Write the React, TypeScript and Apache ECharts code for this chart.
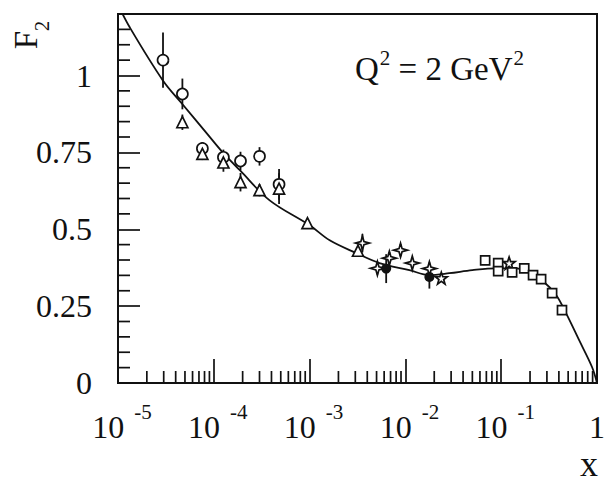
import React, { useEffect, useRef } from "react";
import * as echarts from "echarts";

// ---------- data ----------
const curveX = [1e-5, 1.33e-5, 2.94e-5, 4.64e-5, 8.45e-5, 1.24e-4, 1.87e-4, 3.83e-4, 1.0e-3, 1.62e-3, 3.09e-3, 5.36e-3, 1.1e-2, 1.78e-2, 2.87e-2, 4.99e-2, 8.87e-2, 0.143, 0.196, 0.267, 0.374, 0.475, 0.649, 0.887, 1.0];
const curveY = [1.23, 1.156, 0.984, 0.909, 0.812, 0.75, 0.692, 0.594, 0.513, 0.464, 0.422, 0.39, 0.367, 0.351, 0.357, 0.367, 0.373, 0.373, 0.36, 0.334, 0.286, 0.227, 0.14, 0.052, 0.0];

const circleX = [2.95e-5, 4.7e-5, 7.6e-5, 1.26e-4, 1.9e-4, 3.0e-4, 4.8e-4];
const circleY = [1.05, 0.94, 0.763, 0.734, 0.722, 0.737, 0.646];
const circleErr = [0.09, 0.05, 0.02, 0.025, 0.03, 0.03, 0.05];

const triangleX = [4.7e-5, 7.6e-5, 1.26e-4, 1.9e-4, 3.0e-4, 4.8e-4, 9.5e-4, 3.2e-3];
const triangleY = [0.848, 0.745, 0.717, 0.653, 0.627, 0.632, 0.52, 0.43];
const triangleErr = [0.025, 0.02, 0.03, 0.03, 0.02, 0.05, 0.01, 0.02];

const star4X = [3.56e-3, 5.1e-3, 6.8e-3, 8.9e-3, 1.18e-2, 1.78e-2];
const star4Y = [0.455, 0.373, 0.406, 0.432, 0.39, 0.372];
const star4Err = [0.03, 0.02, 0.02, 0.02, 0.012, 0.02];

const filledX = [6.3e-3, 1.78e-2];
const filledY = [0.372, 0.345];
const filledErr = [0.047, 0.038];

const star5X = [2.37e-2, 0.121];
const star5Y = [0.341, 0.39];
const star5Err = [0.0, 0.02];

const squareX = [0.068, 0.093, 0.093, 0.13, 0.174, 0.215, 0.261, 0.34, 0.431];
const squareY = [0.399, 0.39, 0.364, 0.36, 0.373, 0.351, 0.338, 0.292, 0.237];
const squareErr = [0.0, 0.01, 0.01, 0.0, 0.0, 0.01, 0.01, 0.01, 0.01];

// axis structure
const xMin = 1e-5;
const xMax = 1;
const yMin = 0;
const yMax = 1.2;
const yMajor = 0.25;
const decadeExponents = [-5, -4, -3, -2, -1];
const minorMultipliers = [2, 3, 4, 5, 6, 7, 8, 9];
const yMinorTicks = [0.05, 0.1, 0.15, 0.2, 0.3, 0.35, 0.4, 0.45, 0.55, 0.6, 0.65, 0.7, 0.8, 0.85, 0.9, 0.95, 1.05, 1.1, 1.15];

const INK = "#111111";
const SERIF = "Liberation Serif, serif";

const STAR4 = "path://M0,-10 L2.2,-2.2 L10,0 L2.2,2.2 L0,10 L-2.2,2.2 L-10,0 L-2.2,-2.2 Z";
const STAR5 = "path://M0,-10 L2.35,-3.2 L9.5,-3.1 L3.8,1.2 L5.9,8.1 L0,4 L-5.9,8.1 L-3.8,1.2 L-9.5,-3.1 L-2.35,-3.2 Z";

function pts(xs: number[], ys: number[]) {
  return xs.map((x, i) => [x, ys[i]]);
}
function bars(xs: number[], ys: number[], es: number[]) {
  return xs.map((x, i) => [x, ys[i] - es[i], ys[i] + es[i]]).filter((d, i) => es[i] > 0);
}

export default function App() {
  const ref = useRef<HTMLDivElement>(null);
  useEffect(() => {
    if (!ref.current) return;
    const chart = echarts.init(ref.current, undefined, { renderer: "svg" });

    const xMinorTicks: number[] = [];
    decadeExponents.forEach((e) => minorMultipliers.forEach((k) => xMinorTicks.push(k * Math.pow(10, e))));

    const errData = [
      ...bars(circleX, circleY, circleErr),
      ...bars(triangleX, triangleY, triangleErr),
      ...bars(star4X, star4Y, star4Err),
      ...bars(filledX, filledY, filledErr),
      ...bars(star5X, star5Y, star5Err),
      ...bars(squareX, squareY, squareErr),
    ];

    const openStyle = { color: "#ffffff", borderColor: INK, borderWidth: 1.7, opacity: 1 };

    const option: any = {
      animation: false,
      backgroundColor: "#ffffff",
      textStyle: { fontFamily: SERIF },
      grid: {
        left: 118,
        top: 14,
        width: 479,
        height: 369,
        show: true,
        borderColor: INK,
        borderWidth: 2,
        containLabel: false,
        outerBoundsMode: "none",
      },
      xAxis: {
        type: "log",
        logBase: 10,
        min: xMin,
        max: xMax,
        splitNumber: 5,
        axisLine: { lineStyle: { color: INK, width: 2 } },
        axisTick: { inside: true, length: 24, lineStyle: { color: INK, width: 1.7 } },
        splitLine: { show: false },
        minorTick: { show: false },
        axisLabel: {
          margin: 18,
          color: INK,
          fontFamily: SERIF,
          formatter: (v: number) => {
            const e = Math.round(Math.log10(v));
            if (e === 0) return "{b|1}";
            return "{p|10}{s|" + e + "}";
          },
          rich: {
            b: { fontSize: 32, lineHeight: 52, fontFamily: SERIF, color: INK },
            p: { fontSize: 32, lineHeight: 52, fontFamily: SERIF, color: INK, padding: [0, 0, 0, 8] },
            s: { fontSize: 21, lineHeight: 20, verticalAlign: "top", fontFamily: SERIF, color: INK, padding: [0, 0, 0, 10] },
          },
        },
      },
      yAxis: {
        type: "value",
        min: yMin,
        max: yMax,
        interval: yMajor,
        axisLine: { show: true, lineStyle: { color: INK, width: 2 } },
        axisTick: { inside: true, length: 22, lineStyle: { color: INK, width: 1.7 } },
        splitLine: { show: false },
        axisLabel: {
          margin: 26,
          color: INK,
          fontFamily: SERIF,
          fontSize: 32,
          showMaxLabel: false,
        },
      },
      graphic: [
        {
          type: "text",
          x: 26,
          y: 40,
          rotation: Math.PI / 2,
          style: { text: "F", fontSize: 33, fontFamily: SERIF, fill: INK, align: "center", verticalAlign: "middle" },
        },
        {
          type: "text",
          x: 42,
          y: 26,
          rotation: Math.PI / 2,
          style: { text: "2", fontSize: 21, fontFamily: SERIF, fill: INK, align: "center", verticalAlign: "middle" },
        },
        {
          type: "text",
          x: 589,
          y: 482,
          style: { text: "x", fontSize: 36, fontFamily: SERIF, fill: INK, align: "center", verticalAlign: "bottom" },
        },
        {
          type: "text",
          x: 355,
          y: 47,
          style: {
            text: "{b|Q}{s|2}{b| = 2 GeV}{s|2}",
            align: "left",
            verticalAlign: "top",
            fontFamily: SERIF,
            rich: {
              b: { fontSize: 33, lineHeight: 44, fontFamily: SERIF, fill: INK, color: INK },
              s: { fontSize: 21, lineHeight: 20, verticalAlign: "top", fontFamily: SERIF, fill: INK, color: INK, padding: [0, 0, 0, 1] },
            },
          },
        },
      ],
      series: [
        {
          name: "fit",
          type: "line",
          data: pts(curveX, curveY),
          symbol: "none",
          smooth: 0.35,
          clip: true,
          lineStyle: { color: INK, width: 1.8 },
          z: 2,
        },
        {
          name: "xminor",
          type: "custom",
          data: xMinorTicks.map((v) => [v, yMin]),
          encode: { x: 0, y: 1 },
          silent: true,
          z: 1,
          renderItem: (params: any, api: any) => {
            const p = api.coord([api.value(0), yMin]);
            return {
              type: "line",
              shape: { x1: p[0], y1: p[1], x2: p[0], y2: p[1] - 12 },
              style: { stroke: INK, lineWidth: 1.7 },
            };
          },
        },
        {
          name: "yminor",
          type: "custom",
          data: yMinorTicks.map((v) => [xMin, v]),
          encode: { x: 0, y: 1 },
          silent: true,
          z: 1,
          renderItem: (params: any, api: any) => {
            const p = api.coord([xMin, api.value(1)]);
            return {
              type: "line",
              shape: { x1: p[0], y1: p[1], x2: p[0] + 12, y2: p[1] },
              style: { stroke: INK, lineWidth: 1.7 },
            };
          },
        },
        {
          name: "errors",
          type: "custom",
          data: errData,
          encode: { x: 0, y: [1, 2] },
          z: 3,
          renderItem: (params: any, api: any) => {
            const x = api.value(0);
            const a = api.coord([x, api.value(1)]);
            const b = api.coord([x, api.value(2)]);
            return {
              type: "line",
              shape: { x1: a[0], y1: a[1], x2: b[0], y2: b[1] },
              style: { stroke: INK, lineWidth: 1.8 },
            };
          },
        },
        { name: "circles", type: "scatter", data: pts(circleX, circleY), symbol: "circle", symbolSize: 11, itemStyle: openStyle, z: 4 },
        { name: "triangles", type: "scatter", data: pts(triangleX, triangleY), symbol: "triangle", symbolSize: 11, itemStyle: openStyle, z: 4 },
        { name: "stars4", type: "scatter", data: pts(star4X, star4Y), symbol: STAR4, symbolSize: 14, itemStyle: openStyle, z: 4 },
        { name: "filled", type: "scatter", data: pts(filledX, filledY), symbol: "circle", symbolSize: 10, itemStyle: { color: INK, opacity: 1 }, z: 5 },
        { name: "stars5", type: "scatter", data: pts(star5X, star5Y), symbol: STAR5, symbolSize: 12, itemStyle: openStyle, z: 4 },
        { name: "squares", type: "scatter", data: pts(squareX, squareY), symbol: "rect", symbolSize: 9, itemStyle: openStyle, z: 4 },
      ],
    };

    chart.setOption(option);
    return () => chart.dispose();
  }, []);

  return <div ref={ref} style={{ position: "absolute", left: 0, top: 0, width: 608, height: 483 }} />;
}
